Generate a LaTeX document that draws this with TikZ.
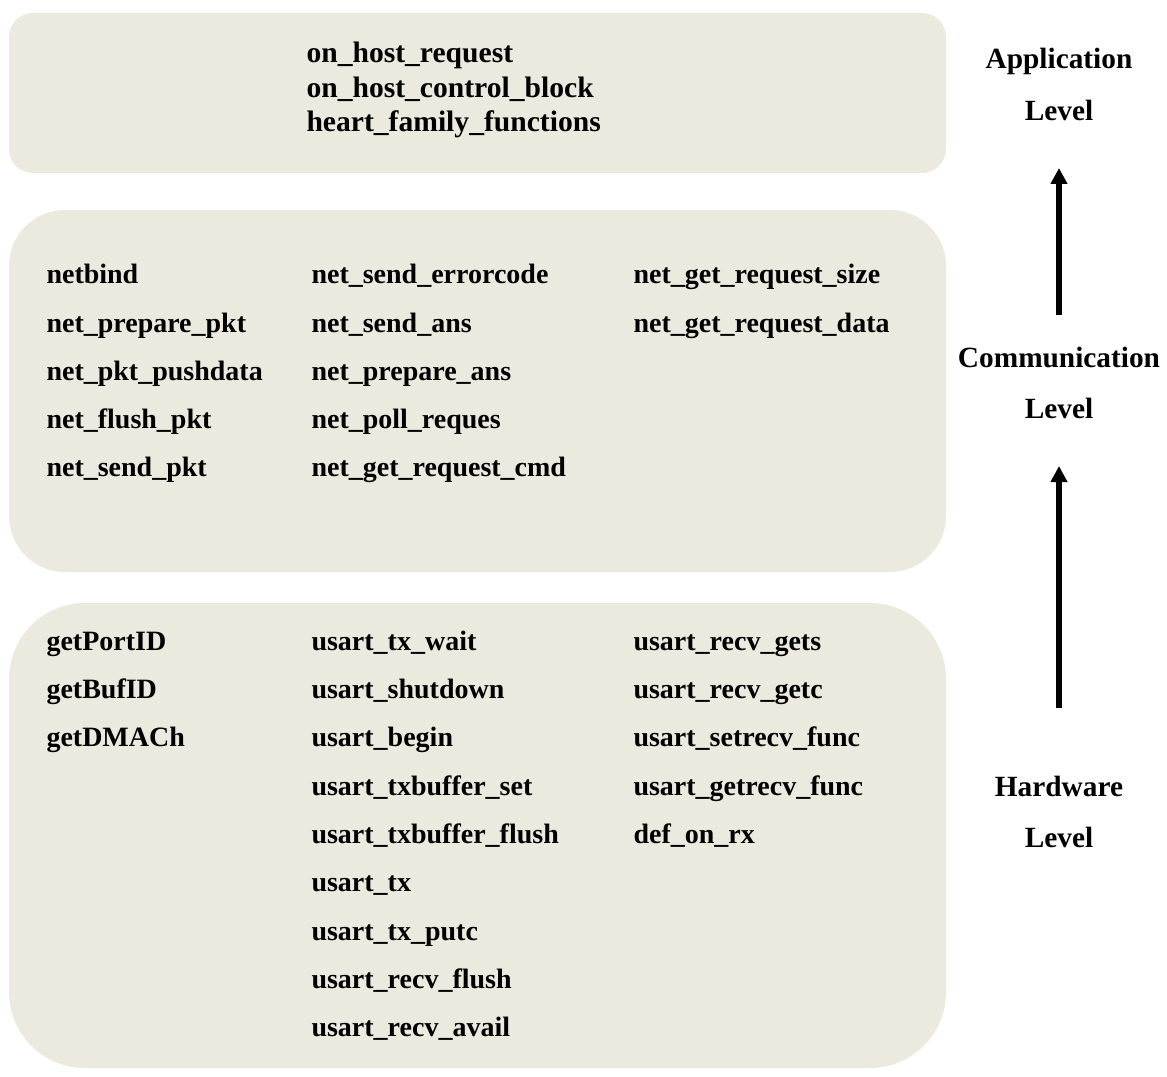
\documentclass[tikz,border=0pt]{standalone}
\usepackage{fontspec}
\setmainfont{Liberation Serif}
\usetikzlibrary{arrows.meta}

\definecolor{lvlbeige}{RGB}{236,233,223}
\tikzset{every picture/.style={line width=0.75pt}}
\tikzset{
  fname/.style={anchor=base west,inner sep=0.75pt,font=\fontsize{21}{25}\selectfont\bfseries},
  appname/.style={fname,font=\fontsize{22.2}{26}\selectfont\bfseries},
  lvlname/.style={anchor=base,inner sep=0.75pt,font=\fontsize{22}{26}\selectfont\bfseries},
  lvlarrow/.style={line width=4.5pt,-{Triangle[width=12pt,length=12pt]}}
}

\begin{document}
\begin{tikzpicture}[x=0.75pt,y=0.75pt,yscale=-1,xscale=1]
\useasboundingbox (0,0) rectangle (1167,1077);

%Rounded Rect [id:app]
\fill [lvlbeige, rounded corners=18pt] (9,13) rectangle (946,173);
%Rounded Rect [id:comm]
\fill [lvlbeige, rounded corners=42pt] (9,210) rectangle (946,572);
%Rounded Rect [id:hw]
\fill [lvlbeige, rounded corners=57pt] (9,603) rectangle (946,1068);

% Text Node
\draw (305,63) node [appname] (ap1) {on\_host\_request};
% Text Node
\draw (305,98) node [appname] (ap2) {on\_host\_control\_block};
% Text Node
\draw (305,132) node [appname] (ap3) {heart\_family\_functions};

% Text Node
\draw (45,283) node [fname] (cm1) {netbind};
% Text Node
\draw (45,332) node [fname] (cm2) {net\_prepare\_pkt};
% Text Node
\draw (45,380) node [fname] (cm3) {net\_pkt\_pushdata};
% Text Node
\draw (45,428) node [fname] (cm4) {net\_flush\_pkt};
% Text Node
\draw (45,476) node [fname] (cm5) {net\_send\_pkt};
% Text Node
\draw (310,283) node [fname] (cm6) {net\_send\_errorcode};
% Text Node
\draw (310,332) node [fname] (cm7) {net\_send\_ans};
% Text Node
\draw (310,380) node [fname] (cm8) {net\_prepare\_ans};
% Text Node
\draw (310,428) node [fname] (cm9) {net\_poll\_reques};
% Text Node
\draw (310,476) node [fname] (cm10) {net\_get\_request\_cmd};
% Text Node
\draw (632,283) node [fname] (cm11) {net\_get\_request\_size};
% Text Node
\draw (632,332) node [fname] (cm12) {net\_get\_request\_data};

% Text Node
\draw (45,650) node [fname] (hw1) {getPortID};
% Text Node
\draw (45,698) node [fname] (hw2) {getBufID};
% Text Node
\draw (45,746) node [fname] (hw3) {getDMACh};
% Text Node
\draw (310,650) node [fname] (hw4) {usart\_tx\_wait};
% Text Node
\draw (310,698) node [fname] (hw5) {usart\_shutdown};
% Text Node
\draw (310,746) node [fname] (hw6) {usart\_begin};
% Text Node
\draw (310,795) node [fname] (hw7) {usart\_txbuffer\_set};
% Text Node
\draw (310,843) node [fname] (hw8) {usart\_txbuffer\_flush};
% Text Node
\draw (310,891) node [fname] (hw9) {usart\_tx};
% Text Node
\draw (310,940) node [fname] (hw10) {usart\_tx\_putc};
% Text Node
\draw (310,988) node [fname] (hw11) {usart\_recv\_flush};
% Text Node
\draw (310,1036) node [fname] (hw12) {usart\_recv\_avail};
% Text Node
\draw (632,650) node [fname] (hw13) {usart\_recv\_gets};
% Text Node
\draw (632,698) node [fname] (hw14) {usart\_recv\_getc};
% Text Node
\draw (632,746) node [fname] (hw15) {usart\_setrecv\_func};
% Text Node
\draw (632,795) node [fname] (hw16) {usart\_getrecv\_func};
% Text Node
\draw (632,843) node [fname] (hw17) {def\_on\_rx};

% Text Node
\draw (1059,69) node [lvlname] (lvapp) {Application};
% Text Node
\draw (1059,121) node [lvlname] (lvappb) {Level};
% Text Node
\draw (1059,367) node [lvlname] (lvcom) {Communication};
% Text Node
\draw (1059,418) node [lvlname] (lvcomb) {Level};
% Text Node
\draw (1059,796) node [lvlname] (lvhw) {Hardware};
% Text Node
\draw (1059,847) node [lvlname] (lvhwb) {Level};

%Straight Lines [id:up1]
\coordinate (up1s) at (1059,315);
\coordinate (up1e) at (1059,168);
\draw [lvlarrow] (up1s) -- (up1e);
%Straight Lines [id:up2]
\coordinate (up2s) at (1059,708);
\coordinate (up2e) at (1059,466);
\draw [lvlarrow] (up2s) -- (up2e);

\end{tikzpicture}
\end{document}
